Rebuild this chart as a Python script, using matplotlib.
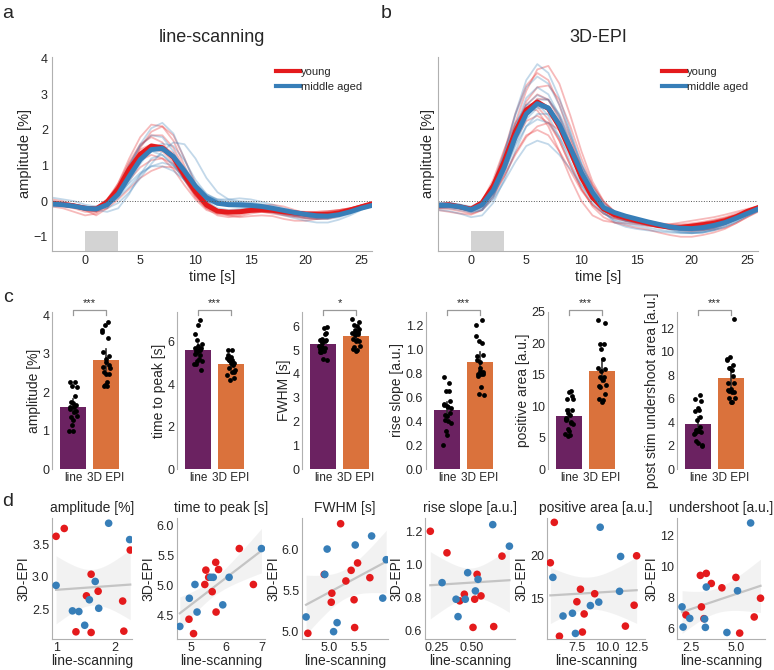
import numpy as np
import matplotlib.pyplot as plt
import matplotlib.transforms as mtransforms
from matplotlib.patches import Rectangle
from matplotlib.lines import Line2D

plt.rcParams['font.family'] = ['Liberation Sans', 'DejaVu Sans']

# ---------------- time courses (panels a, b) ----------------
time_s = list(range(-3, 27))

line_young_mean = [-0.06, -0.09, -0.13, -0.20, -0.22, -0.02, 0.35, 0.90, 1.32, 1.55, 1.50, 1.23, 0.72, 0.26, -0.11,
                   -0.28, -0.31, -0.30, -0.26, -0.24, -0.26, -0.30, -0.33, -0.36, -0.37, -0.37, -0.33, -0.25, -0.16, -0.07]
line_middle_mean = [-0.08, -0.10, -0.14, -0.20, -0.22, -0.10, 0.20, 0.70, 1.17, 1.45, 1.48, 1.25, 0.85, 0.42, 0.10,
                    -0.06, -0.10, -0.11, -0.12, -0.15, -0.20, -0.26, -0.32, -0.37, -0.41, -0.42, -0.38, -0.30, -0.20, -0.12]

line_young_subj = [
    [-0.1, -0.15, -0.2, -0.3, -0.3, -0.05, 0.5, 1.2, 1.8, 2.15, 2.1, 1.7, 1.0, 0.35, -0.15, -0.35, -0.4, -0.38, -0.3, -0.25, -0.28, -0.35, -0.42, -0.48, -0.5, -0.48, -0.4, -0.3, -0.2, -0.1],
    [0.0, -0.05, -0.1, -0.15, -0.2, -0.05, 0.3, 0.9, 1.5, 1.95, 2.1, 1.85, 1.2, 0.5, 0.0, -0.25, -0.3, -0.28, -0.2, -0.12, -0.1, -0.15, -0.25, -0.35, -0.42, -0.45, -0.4, -0.3, -0.2, -0.1],
    [-0.1, -0.12, -0.15, -0.25, -0.3, -0.2, 0.05, 0.35, 0.65, 0.85, 0.97, 0.95, 0.7, 0.3, -0.05, -0.3, -0.4, -0.45, -0.42, -0.4, -0.42, -0.5, -0.55, -0.55, -0.5, -0.45, -0.38, -0.3, -0.2, -0.1],
    [0.05, 0.0, -0.1, -0.25, -0.4, -0.2, 0.3, 0.8, 1.15, 1.3, 1.2, 0.9, 0.45, 0.05, -0.25, -0.35, -0.35, -0.32, -0.3, -0.3, -0.32, -0.38, -0.42, -0.4, -0.35, -0.3, -0.25, -0.2, -0.12, -0.05],
    [-0.15, -0.2, -0.3, -0.4, -0.35, -0.1, 0.4, 1.0, 1.45, 1.6, 1.55, 1.2, 0.65, 0.15, -0.2, -0.4, -0.45, -0.42, -0.35, -0.3, -0.3, -0.35, -0.4, -0.45, -0.5, -0.5, -0.42, -0.32, -0.2, -0.1],
    [-0.05, -0.1, -0.15, -0.2, -0.2, 0.05, 0.5, 1.1, 1.6, 1.8, 1.65, 1.2, 0.6, 0.1, -0.2, -0.3, -0.3, -0.25, -0.2, -0.18, -0.2, -0.25, -0.28, -0.3, -0.3, -0.28, -0.25, -0.2, -0.15, -0.1],
    [-0.1, -0.1, -0.12, -0.18, -0.15, 0.0, 0.25, 0.6, 0.95, 1.15, 1.2, 1.05, 0.7, 0.3, -0.05, -0.25, -0.32, -0.3, -0.25, -0.2, -0.22, -0.3, -0.38, -0.42, -0.42, -0.38, -0.3, -0.22, -0.15, -0.08],
    [-0.08, -0.1, -0.12, -0.2, -0.25, -0.05, 0.35, 0.85, 1.25, 1.45, 1.4, 1.1, 0.6, 0.15, -0.15, -0.3, -0.32, -0.3, -0.28, -0.3, -0.35, -0.4, -0.45, -0.48, -0.45, -0.4, -0.32, -0.22, -0.12, -0.05],
    [-0.05, -0.08, -0.1, -0.15, -0.2, -0.05, 0.25, 0.75, 1.2, 1.5, 1.55, 1.35, 0.85, 0.35, -0.05, -0.25, -0.3, -0.3, -0.25, -0.2, -0.2, -0.25, -0.3, -0.32, -0.3, -0.28, -0.25, -0.2, -0.12, -0.05],
    [-0.1, -0.12, -0.15, -0.2, -0.18, 0.05, 0.45, 1.05, 1.55, 1.85, 1.85, 1.5, 0.9, 0.3, -0.1, -0.25, -0.28, -0.25, -0.2, -0.18, -0.2, -0.25, -0.3, -0.35, -0.38, -0.38, -0.35, -0.28, -0.18, -0.08],
]
line_middle_subj = [
    [0.0, -0.05, -0.1, -0.2, -0.25, -0.05, 0.4, 1.0, 1.55, 1.85, 1.8, 1.4, 0.8, 0.3, 0.0, -0.1, -0.12, -0.1, -0.12, -0.18, -0.25, -0.35, -0.42, -0.48, -0.5, -0.48, -0.4, -0.3, -0.2, -0.12],
    [-0.1, -0.1, -0.12, -0.15, -0.2, -0.2, -0.05, 0.25, 0.65, 1.05, 1.4, 1.65, 1.6, 1.2, 0.65, 0.25, 0.05, 0.0, -0.02, -0.08, -0.15, -0.25, -0.35, -0.42, -0.45, -0.45, -0.4, -0.3, -0.2, -0.12],
    [0.1, 0.05, 0.0, -0.1, -0.15, -0.1, 0.1, 0.4, 0.75, 0.98, 1.08, 1.0, 0.75, 0.4, 0.12, 0.0, -0.05, -0.05, -0.08, -0.12, -0.18, -0.25, -0.3, -0.35, -0.38, -0.38, -0.32, -0.25, -0.15, -0.05],
    [-0.1, -0.12, -0.15, -0.2, -0.25, -0.3, -0.2, 0.2, 0.75, 1.2, 1.3, 1.05, 0.6, 0.2, 0.0, -0.05, -0.05, -0.05, -0.1, -0.15, -0.2, -0.28, -0.35, -0.42, -0.48, -0.5, -0.45, -0.35, -0.22, -0.12],
    [-0.05, -0.08, -0.1, -0.15, -0.18, 0.0, 0.4, 1.0, 1.6, 2.05, 2.2, 1.9, 1.2, 0.45, 0.0, -0.2, -0.25, -0.22, -0.2, -0.25, -0.32, -0.4, -0.48, -0.55, -0.6, -0.6, -0.52, -0.4, -0.25, -0.12],
    [-0.1, -0.12, -0.18, -0.25, -0.28, -0.1, 0.25, 0.75, 1.2, 1.45, 1.45, 1.2, 0.8, 0.4, 0.15, 0.05, 0.05, 0.08, 0.05, -0.02, -0.1, -0.2, -0.28, -0.35, -0.4, -0.42, -0.38, -0.3, -0.2, -0.12],
    [-0.05, -0.08, -0.12, -0.18, -0.2, -0.05, 0.2, 0.5, 0.8, 0.98, 0.98, 0.85, 0.6, 0.3, 0.08, -0.05, -0.1, -0.12, -0.15, -0.2, -0.25, -0.3, -0.35, -0.38, -0.4, -0.38, -0.32, -0.25, -0.18, -0.12],
    [-0.15, -0.15, -0.18, -0.22, -0.25, -0.15, 0.1, 0.55, 1.05, 1.45, 1.62, 1.55, 1.15, 0.6, 0.2, 0.02, -0.05, -0.05, -0.08, -0.15, -0.22, -0.3, -0.38, -0.42, -0.45, -0.45, -0.4, -0.32, -0.22, -0.15],
    [-0.12, -0.12, -0.15, -0.2, -0.2, -0.02, 0.35, 0.85, 1.25, 1.4, 1.3, 1.0, 0.6, 0.25, 0.05, -0.05, -0.08, -0.1, -0.12, -0.15, -0.2, -0.25, -0.3, -0.35, -0.38, -0.38, -0.35, -0.28, -0.2, -0.12],
    [-0.05, -0.1, -0.15, -0.22, -0.25, -0.1, 0.25, 0.8, 1.25, 1.5, 1.52, 1.3, 0.95, 0.5, 0.2, 0.05, 0.0, -0.02, -0.05, -0.1, -0.18, -0.25, -0.32, -0.38, -0.42, -0.42, -0.38, -0.3, -0.22, -0.15],
]

epi_young_mean = [-0.13, -0.10, -0.16, -0.22, -0.04, 0.43, 1.12, 1.95, 2.56, 2.79, 2.60, 2.09, 1.40, 0.66, 0.10,
                  -0.22, -0.38, -0.47, -0.55, -0.62, -0.69, -0.73, -0.73, -0.70, -0.66, -0.62, -0.55, -0.44, -0.29, -0.18]
epi_middle_mean = [-0.12, -0.12, -0.16, -0.24, -0.10, 0.30, 0.95, 1.80, 2.45, 2.74, 2.62, 2.15, 1.50, 0.80, 0.25,
                   -0.18, -0.32, -0.42, -0.50, -0.58, -0.65, -0.72, -0.76, -0.77, -0.74, -0.68, -0.60, -0.48, -0.35, -0.22]

epi_young_subj = [
    [-0.15, -0.15, -0.2, -0.28, -0.15, 0.35, 1.2, 2.2, 3.1, 3.7, 3.8, 3.3, 2.4, 1.4, 0.55, 0.0, -0.3, -0.45, -0.55, -0.62, -0.7, -0.78, -0.82, -0.85, -0.82, -0.75, -0.65, -0.5, -0.35, -0.2],
    [-0.1, -0.1, -0.15, -0.22, -0.05, 0.5, 1.4, 2.45, 3.25, 3.6, 3.4, 2.7, 1.8, 0.9, 0.2, -0.25, -0.45, -0.55, -0.6, -0.65, -0.7, -0.72, -0.72, -0.7, -0.65, -0.6, -0.52, -0.42, -0.3, -0.18],
    [-0.2, -0.22, -0.28, -0.35, -0.25, 0.1, 0.7, 1.35, 1.85, 2.0, 1.85, 1.4, 0.85, 0.3, -0.1, -0.35, -0.48, -0.55, -0.6, -0.65, -0.7, -0.75, -0.8, -0.82, -0.8, -0.75, -0.65, -0.52, -0.38, -0.25],
    [-0.05, -0.08, -0.12, -0.2, 0.0, 0.6, 1.45, 2.2, 2.6, 2.55, 2.1, 1.4, 0.65, 0.0, -0.4, -0.55, -0.6, -0.62, -0.65, -0.7, -0.72, -0.72, -0.7, -0.65, -0.6, -0.55, -0.48, -0.38, -0.28, -0.18],
    [-0.12, -0.1, -0.15, -0.2, -0.1, 0.35, 1.1, 2.0, 2.8, 3.2, 3.25, 2.85, 2.1, 1.2, 0.45, -0.05, -0.3, -0.42, -0.5, -0.58, -0.65, -0.7, -0.72, -0.7, -0.65, -0.58, -0.5, -0.4, -0.3, -0.2],
    [-0.25, -0.3, -0.35, -0.38, -0.25, 0.2, 0.9, 1.7, 2.25, 2.4, 2.2, 1.7, 1.0, 0.35, -0.15, -0.45, -0.6, -0.68, -0.75, -0.8, -0.88, -0.95, -1.0, -1.0, -0.95, -0.88, -0.78, -0.62, -0.45, -0.3],
    [-0.15, -0.12, -0.18, -0.25, -0.1, 0.35, 1.1, 1.9, 2.55, 2.88, 2.85, 2.4, 1.7, 0.9, 0.25, -0.15, -0.35, -0.45, -0.52, -0.6, -0.65, -0.65, -0.6, -0.55, -0.5, -0.45, -0.38, -0.3, -0.22, -0.15],
    [-0.1, -0.1, -0.15, -0.22, -0.05, 0.45, 1.25, 2.05, 2.6, 2.65, 2.3, 1.7, 1.0, 0.35, -0.1, -0.35, -0.48, -0.55, -0.62, -0.68, -0.72, -0.75, -0.72, -0.68, -0.62, -0.55, -0.48, -0.4, -0.3, -0.2],
    [-0.2, -0.18, -0.22, -0.3, -0.15, 0.3, 1.1, 2.0, 2.7, 3.0, 2.85, 2.3, 1.5, 0.7, 0.1, -0.25, -0.42, -0.5, -0.55, -0.6, -0.65, -0.7, -0.75, -0.78, -0.8, -0.8, -0.75, -0.62, -0.45, -0.28],
    [-0.08, -0.08, -0.12, -0.18, -0.1, 0.2, 0.7, 1.3, 1.8, 2.1, 2.2, 2.0, 1.55, 1.0, 0.45, 0.0, -0.3, -0.45, -0.52, -0.58, -0.62, -0.65, -0.65, -0.62, -0.58, -0.52, -0.45, -0.35, -0.25, -0.15],
]
epi_middle_subj = [
    [-0.08, -0.05, -0.1, -0.2, -0.1, 0.4, 1.3, 2.45, 3.4, 3.85, 3.6, 2.9, 1.95, 1.0, 0.3, -0.15, -0.4, -0.5, -0.55, -0.62, -0.7, -0.8, -0.88, -0.9, -0.88, -0.8, -0.68, -0.52, -0.35, -0.2],
    [-0.1, -0.12, -0.2, -0.3, -0.25, 0.05, 0.55, 1.1, 1.55, 1.7, 1.6, 1.3, 0.9, 0.45, 0.05, -0.3, -0.55, -0.65, -0.7, -0.75, -0.8, -0.85, -0.88, -0.9, -0.88, -0.82, -0.72, -0.58, -0.42, -0.28],
    [-0.25, -0.28, -0.35, -0.45, -0.4, -0.05, 0.6, 1.4, 2.1, 2.45, 2.45, 2.1, 1.5, 0.8, 0.15, -0.3, -0.6, -0.72, -0.78, -0.82, -0.85, -0.88, -0.9, -0.9, -0.88, -0.82, -0.72, -0.58, -0.42, -0.28],
    [-0.1, -0.1, -0.15, -0.22, -0.12, 0.3, 1.1, 2.1, 2.9, 3.2, 3.0, 2.4, 1.6, 0.85, 0.25, -0.15, -0.35, -0.45, -0.52, -0.6, -0.68, -0.75, -0.8, -0.82, -0.8, -0.72, -0.62, -0.5, -0.36, -0.22],
    [-0.05, -0.05, -0.1, -0.18, -0.05, 0.45, 1.3, 2.15, 2.7, 2.75, 2.4, 1.8, 1.1, 0.45, -0.05, -0.35, -0.52, -0.6, -0.65, -0.68, -0.72, -0.75, -0.78, -0.78, -0.75, -0.7, -0.6, -0.48, -0.35, -0.22],
    [-0.15, -0.15, -0.2, -0.28, -0.2, 0.15, 0.8, 1.55, 2.1, 2.3, 2.2, 1.8, 1.25, 0.65, 0.15, -0.2, -0.4, -0.5, -0.55, -0.6, -0.68, -0.75, -0.8, -0.82, -0.8, -0.75, -0.65, -0.52, -0.38, -0.25],
    [-0.05, -0.05, -0.1, -0.15, 0.0, 0.5, 1.35, 2.4, 3.2, 3.5, 3.3, 2.7, 1.9, 1.05, 0.35, -0.1, -0.35, -0.45, -0.5, -0.55, -0.62, -0.7, -0.75, -0.78, -0.75, -0.68, -0.58, -0.45, -0.32, -0.2],
    [-0.15, -0.12, -0.15, -0.25, -0.2, 0.15, 0.8, 1.6, 2.3, 2.62, 2.6, 2.2, 1.55, 0.85, 0.25, -0.15, -0.4, -0.55, -0.6, -0.65, -0.7, -0.75, -0.8, -0.8, -0.78, -0.72, -0.62, -0.5, -0.36, -0.22],
    [-0.1, -0.1, -0.15, -0.2, -0.08, 0.35, 1.15, 2.05, 2.7, 2.98, 2.85, 2.35, 1.6, 0.85, 0.2, -0.2, -0.45, -0.55, -0.6, -0.65, -0.72, -0.78, -0.82, -0.85, -0.82, -0.75, -0.62, -0.48, -0.32, -0.18],
    [-0.2, -0.2, -0.25, -0.32, -0.25, 0.1, 0.85, 1.8, 2.5, 2.85, 2.85, 2.45, 1.8, 1.05, 0.4, -0.05, -0.3, -0.45, -0.52, -0.6, -0.68, -0.78, -0.85, -0.88, -0.85, -0.78, -0.65, -0.5, -0.35, -0.22],
]

# ---------------- per-subject metrics (panels c, d) ----------------
# y = young, m = middle aged
amp_line = [1.00, 1.14, 2.27, 1.60, 1.72, 1.52, 1.34, 1.60, 2.14, 2.16, 1.90, 2.26, 1.00, 1.67, 1.57, 1.28, 1.39, 1.73, 1.49]
amp_epi = [3.62, 3.74, 3.41, 3.04, 2.78, 2.71, 2.16, 2.15, 2.63, 2.17, 3.82, 3.57, 2.87, 2.93, 2.65, 2.48, 2.47, 2.52, 2.26]
amp_grp = ['y'] * 10 + ['m'] * 9

ttp_line = [4.94, 5.07, 5.39, 5.42, 5.50, 5.60, 5.70, 5.78, 5.71, 6.37, 6.77,
            4.68, 4.95, 5.17, 5.11, 5.56, 5.63, 5.90, 6.08, 7.00]
ttp_epi = [4.43, 4.19, 5.01, 5.25, 5.13, 4.89, 5.38, 5.26, 4.55, 5.61, 5.01,
           4.31, 4.78, 4.55, 5.01, 5.13, 5.13, 4.67, 5.13, 5.61]
ttp_grp = ['y'] * 11 + ['m'] * 9

fwhm_line = [5.19, 5.48, 5.37, 4.91, 5.28, 5.69, 5.04, 5.03, 5.42, 5.43, 4.63,
             5.72, 5.44, 4.96, 5.97, 4.92, 5.91, 4.60, 5.13, 5.07]
fwhm_epi = [6.32, 5.84, 5.75, 5.70, 5.62, 5.66, 5.47, 5.36, 5.39, 5.05, 4.98,
            6.17, 6.06, 6.01, 5.88, 5.70, 5.41, 5.18, 5.11, 5.00]
fwhm_grp = ['y'] * 11 + ['m'] * 9

rise_line = [0.202, 0.321, 0.714, 0.536, 0.445, 0.564, 0.412, 0.519, 0.507, 0.655,
             0.648, 0.767, 0.286, 0.469, 0.543, 0.524, 0.386, 0.452, 0.400]
rise_epi = [1.20, 1.07, 1.05, 0.94, 0.82, 0.81, 0.78, 0.79, 0.62, 0.625,
            1.24, 1.11, 0.89, 0.95, 0.91, 0.84, 0.79, 0.79, 0.685]
rise_grp = ['y'] * 10 + ['m'] * 9

pos_line = [5.61, 5.28, 12.50, 7.80, 8.99, 7.50, 8.11, 12.29, 11.56, 7.96, 6.04,
            9.45, 11.16, 5.49, 11.07, 9.33, 8.63, 7.13, 6.34, 7.38]
pos_epi = [23.8, 19.16, 19.96, 16.12, 15.6, 14.68, 13.28, 14.28, 11.88, 11.2, 10.72,
           23.24, 19.88, 17.48, 15.88, 14.64, 14.24, 13.36, 13.04, 11.04]
pos_grp = ['y'] * 11 + ['m'] * 9

und_line = [3.00, 3.33, 3.61, 4.98, 4.20, 6.35, 3.06, 2.20, 3.20, 6.00, 5.19,
            5.80, 3.33, 5.07, 1.98, 2.41, 3.24, 2.04, 3.28, 4.48]
und_epi = [9.40, 9.53, 8.88, 9.27, 8.60, 7.93, 7.37, 6.85, 6.61, 6.72, 5.68,
           12.78, 8.65, 8.41, 7.37, 6.63, 6.59, 6.07, 6.05, 5.72]
und_grp = ['y'] * 11 + ['m'] * 9

bar_ylabels = ['amplitude [%]', 'time to peak [s]', 'FWHM [s]', 'rise slope [a.u.]',
               'positive area [a.u.]', 'post stim undershoot area [a.u.]']
scatter_titles = ['amplitude [%]', 'time to peak [s]', 'FWHM [s]', 'rise slope [a.u.]',
                  'positive area [a.u.]', 'undershoot [a.u.]']
stars = ['***', '***', '*', '***', '***', '***']
bar_categories = ['line', '3D EPI']

metrics = [(amp_line, amp_epi, amp_grp), (ttp_line, ttp_epi, ttp_grp), (fwhm_line, fwhm_epi, fwhm_grp),
           (rise_line, rise_epi, rise_grp), (pos_line, pos_epi, pos_grp), (und_line, und_epi, und_grp)]

# ---------------- styling ----------------
RED = '#e41a1c'
BLUE = '#377eb8'
PURPLE = '#6b2261'
ORANGE = '#da723c'
SPINE = '#b0b0b0'
TXT = '#262626'

W, H = 774, 670
fig = plt.figure(figsize=(W / 100, H / 100), dpi=100)


def px_axes(left, top, right, bottom):
    return fig.add_axes([left / W, 1 - bottom / H, (right - left) / W, (bottom - top) / H])


def style(ax, bottom=True, pad=3):
    for s in ['top', 'right']:
        ax.spines[s].set_visible(False)
    ax.spines['left'].set_color(SPINE)
    ax.spines['bottom'].set_color(SPINE)
    ax.spines['bottom'].set_visible(bottom)
    ax.tick_params(length=0, colors=TXT, labelsize=9, pad=pad)


# ---------------- panels a, b ----------------
tc_sets = [
    ('line-scanning', line_young_subj, line_middle_subj, line_young_mean, line_middle_mean, 52, 372),
    ('3D-EPI', epi_young_subj, epi_middle_subj, epi_young_mean, epi_middle_mean, 438, 758),
]
for k, (title, ysub, msub, ymean, mmean, l, r) in enumerate(tc_sets):
    ax = px_axes(l, 57, r, 251)
    style(ax)
    ax.set_xlim(-3, 26)
    ax.set_ylim(-1.4, 4.05)
    for c in ysub:
        ax.plot(time_s, c, color=RED, lw=1.3, alpha=0.3)
    for c in msub:
        ax.plot(time_s, c, color=BLUE, lw=1.3, alpha=0.3)
    ax.plot(time_s, ymean, color=RED, lw=3.5)
    ax.plot(time_s, mmean, color=BLUE, lw=3.5)
    ax.axhline(0, color='#555555', lw=0.7, ls=':')
    ax.add_patch(Rectangle((0, -1.4), 3, 0.55, color='#d3d3d3', lw=0))
    ax.set_xticks([0, 5, 10, 15, 20, 25])
    if k == 0:
        ax.set_yticks([-1, 0, 1, 2, 3, 4])
        ax.set_ylabel('amplitude [%]', fontsize=10.5, color=TXT, labelpad=1)
    else:
        ax.set_yticks([])
        ax.set_ylabel('amplitude [%]', fontsize=10.5, color=TXT, labelpad=2)
    ax.set_xlabel('time [s]', fontsize=10.3, color=TXT, labelpad=2)
    ax.set_title(title, fontsize=13, color=TXT, pad=11)
    handles = [Line2D([], [], color=RED, lw=3), Line2D([], [], color=BLUE, lw=3)]
    ax.legend(handles, ['young', 'middle aged'], loc='upper right', bbox_to_anchor=(1.0, 1.0),
              frameon=False, fontsize=8, handlelength=2.1, handletextpad=0.1, labelspacing=0.45,
              labelcolor=TXT)

# ---------------- panel c: bars ----------------
bar_lefts = [52, 177, 302, 426, 548, 677]
bar_ylims = [(0, 4.08), (0, 7.4), (0, 6.6), (0, 1.31), (0, 25.0), (0, 13.4)]
bar_yticks = [[0, 1, 2, 3, 4], [0, 2, 4, 6], [0, 1, 2, 3, 4, 5, 6],
              [0.0, 0.2, 0.4, 0.6, 0.8, 1.0, 1.2], [0, 5, 10, 15, 20, 25], [0, 2, 4, 6, 8, 10, 12]]
for i, (lv, ev, grp) in enumerate(metrics):
    ax = px_axes(bar_lefts[i], 312, bar_lefts[i] + 75, 469)
    style(ax, bottom=False, pad=2)
    ax.set_xlim(-0.64, 1.64)
    ax.set_ylim(*bar_ylims[i])
    for j, (vals, col) in enumerate([(lv, PURPLE), (ev, ORANGE)]):
        v = np.asarray(vals)
        n = len(v)
        m = v.mean()
        ci = 2.09 * v.std(ddof=1) / np.sqrt(n)
        ax.bar(j, m, width=0.8, color=col, zorder=1)
        ax.plot([j, j], [m - ci, m + ci], color='#333333', lw=1.2, zorder=2)
        jit = (((np.arange(n) * 7) % n) / (n - 1) - 0.5) * 0.24
        ax.scatter(j + jit, v, s=12, color='black', lw=0, zorder=3)
    ax.set_xticks([0, 1])
    ax.set_xticklabels(bar_categories, fontsize=8.5)
    ax.set_yticks(bar_yticks[i])
    ax.set_ylabel(bar_ylabels[i], fontsize=10, color=TXT, labelpad=1)
    tr = mtransforms.blended_transform_factory(ax.transData, ax.transAxes)
    ax.plot([0, 0, 1, 1], [0.98, 1.012, 1.012, 0.98], color='#999999', lw=0.9, transform=tr, clip_on=False)
    ax.text(0.5, 1.025, stars[i], transform=tr, ha='center', va='bottom', fontsize=8, color=TXT)

# ---------------- panel d: scatter ----------------
sc_boxes = [(52, 132), (177, 265), (302, 388), (425, 515), (547, 645), (677, 765)]
sc_xlims = [(0.93, 2.30), (4.6, 7.1), (4.53, 6.0), (0.164, 0.807), (5.0, 13.2), (1.7, 6.6)]
sc_ylims = [(2.05, 3.9), (4.1, 6.12), (4.91, 6.39), (0.55, 1.28), (10.4, 24.3), (5.3, 13.1)]
sc_xticks = [[1, 2], [5, 6, 7], [5.0, 5.5], [0.25, 0.50], [7.5, 10.0, 12.5], [2.5, 5.0]]
sc_yticks = [[2.5, 3.0, 3.5], [4.5, 5.0, 5.5, 6.0], [5.0, 5.5, 6.0], [0.6, 0.8, 1.0, 1.2], [15, 20], [6, 8, 10, 12]]
sc_xfmt = ['{:.0f}', '{:.0f}', '{:.1f}', '{:.2f}', '{:.1f}', '{:.1f}']
sc_yfmt = ['{:.1f}', '{:.1f}', '{:.1f}', '{:.1f}', '{:.0f}', '{:.0f}']
for i, (lv, ev, grp) in enumerate(metrics):
    l, r = sc_boxes[i]
    ax = px_axes(l, 518, r, 639)
    style(ax, pad=2)
    x = np.asarray(lv)
    y = np.asarray(ev)
    n = len(x)
    slope, icpt = np.polyfit(x, y, 1)
    xs = np.linspace(x.min(), x.max(), 100)
    resid = y - (slope * x + icpt)
    s_err = np.sqrt((resid ** 2).sum() / (n - 2))
    se = s_err * np.sqrt(1 / n + (xs - x.mean()) ** 2 / ((x - x.mean()) ** 2).sum())
    fit = slope * xs + icpt
    ax.fill_between(xs, fit - 2.1 * se, fit + 2.1 * se, color='#888888', alpha=0.1, lw=0, zorder=1)
    ax.plot(xs, fit, color='#c4c4c4', lw=1.6, zorder=2)
    cols = [RED if g == 'y' else BLUE for g in grp]
    ax.scatter(x, y, c=cols, s=30, lw=0, zorder=3)
    ax.set_xlim(*sc_xlims[i])
    ax.set_ylim(*sc_ylims[i])
    ax.set_xticks(sc_xticks[i])
    ax.set_xticklabels([sc_xfmt[i].format(v) for v in sc_xticks[i]])
    ax.set_yticks(sc_yticks[i])
    ax.set_yticklabels([sc_yfmt[i].format(v) for v in sc_yticks[i]])
    ax.set_title(scatter_titles[i], fontsize=10, color=TXT, pad=4)
    ax.set_xlabel('line-scanning', fontsize=10, color=TXT, labelpad=0)
    ax.set_ylabel('3D-EPI', fontsize=10, color=TXT, labelpad=1)

# panel letters
for letter, (xp, yp) in zip('abcd', [(8, 13), (386, 13), (8, 297), (8, 502)]):
    fig.text(xp / W, 1 - yp / H, letter, fontsize=14, color=TXT, ha='center', va='center')

fig.savefig('out.png', dpi=100)
